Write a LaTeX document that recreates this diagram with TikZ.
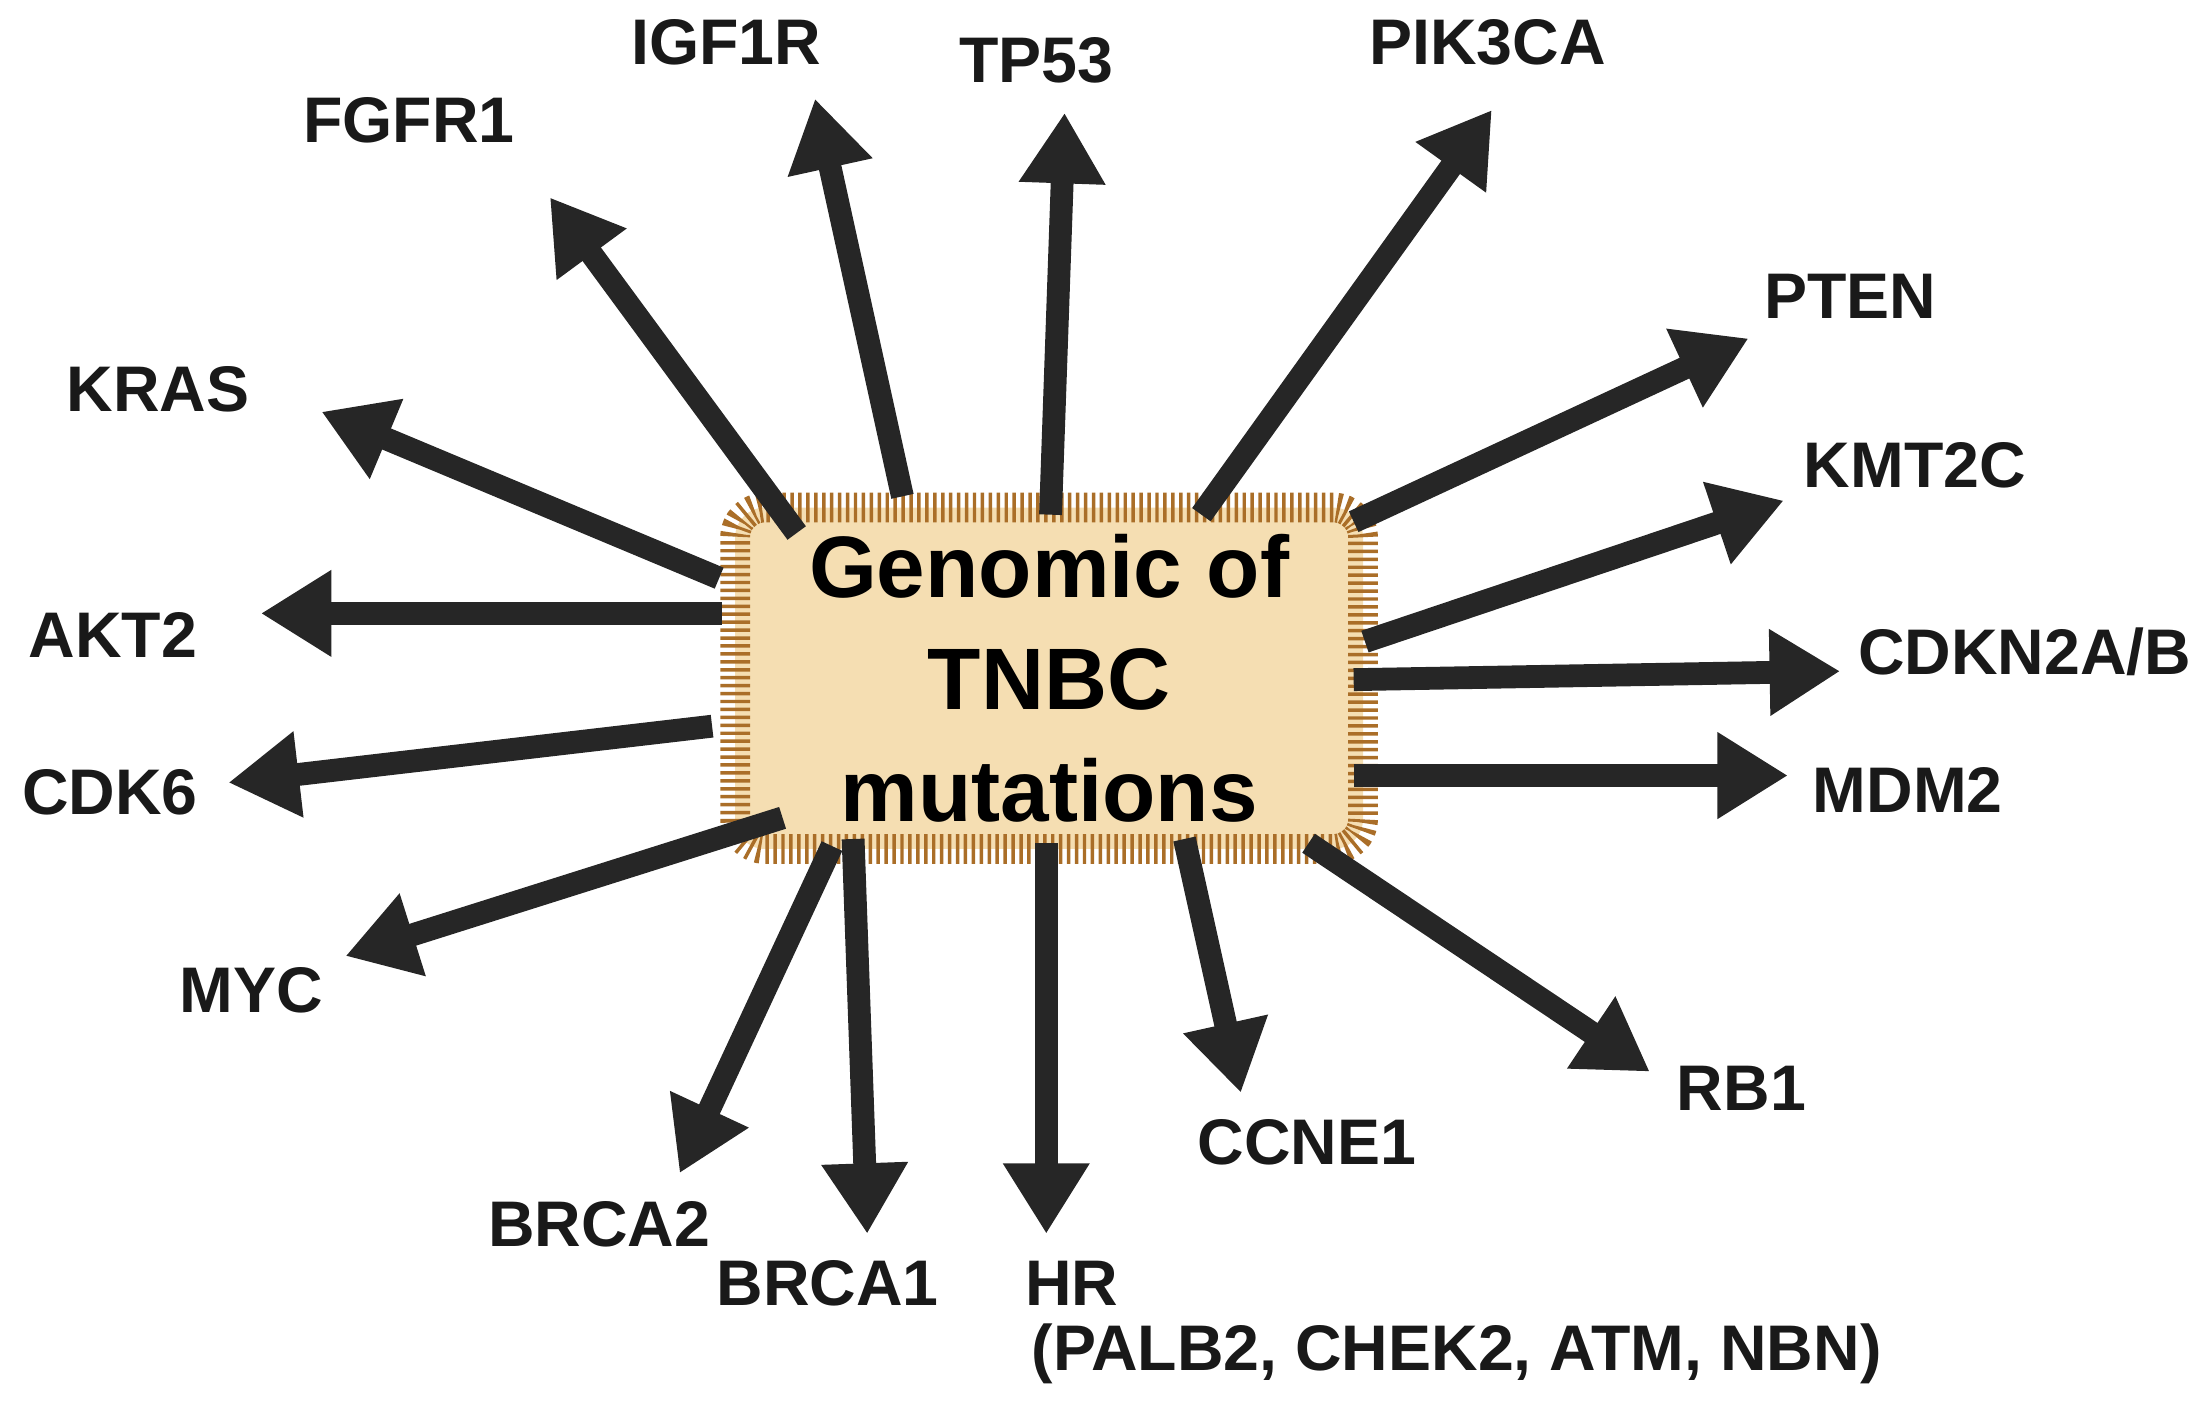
\documentclass[tikz,border=0pt]{standalone}
\usepackage{fontspec}
\setmainfont{Liberation Sans}
\usetikzlibrary{arrows.meta}
\begin{document}
\begin{tikzpicture}[x=0.01cm,y=-0.01cm,
 arr/.style={line width=4.6pt,color=black!85,-{Triangle[length=0.5cm,width=0.58cm]}},
 lab/.style={font=\bfseries\fontsize{13}{15}\selectfont,text=black!90}]
\useasboundingbox (0,0) rectangle (1568,1000);
\node[draw={rgb,255:red,170;green,110;blue,40},line width=6pt,dash pattern=on 0.7pt off 0.9pt,
 fill={rgb,255:red,245;green,222;blue,178},minimum width=4.45cm,minimum height=2.42cm,
 rounded corners=6pt,align=center,font=\bfseries\fontsize{17.6}{22.5}\selectfont] (box) at (744,481)
 {Genomic of\\TNBC\\mutations};
\foreach \n/\sx/\sy/\tx/\ty in {
 fg/565/378/390/140, ig/640/352/578/70, tp/745/365/755/80, pi/852/365/1058/78,
 pt/960/370/1240/240, km/968/455/1265/355, cd/960/482/1305/476, md/960/550/1268/550,
 rb/928/598/1170/760, cc/840/595/880/775, hr/742/598/742/875, b1/605/595/615/875,
 b2/590/600/482/832, my/555/580/245/678, c6/505/515/162/555, ak/512/435/185/435,
 kr/510/410/228/292}{
 \coordinate (s\n) at (\sx,\sy);
 \coordinate (t\n) at (\tx,\ty);
 \draw[arr] (s\n) -- (t\n);
}
\node[lab] (lfg) at (290,85) {FGFR1};
\node[lab] (lig) at (515,30) {IGF1R};
\node[lab] (ltp) at (735,43) {TP53};
\node[lab] (lpi) at (1055,30) {PIK3CA};
\node[lab] (lpt) at (1312,210) {PTEN};
\node[lab] (lkm) at (1358,330) {KMT2C};
\node[lab] (lcd) at (1436,462) {CDKN2A/B};
\node[lab] (lmd) at (1353,560) {MDM2};
\node[lab] (lrb) at (1235,772) {RB1};
\node[lab] (lcc) at (927,810) {CCNE1};
\node[lab] (lhr) at (760,910) {HR};
\node[lab] (lhr2) at (1033,960) {(PALB2, CHEK2, ATM, NBN)};
\node[lab] (lb1) at (587,910) {BRCA1};
\node[lab] (lb2) at (425,868) {BRCA2};
\node[lab] (lmy) at (178,702) {MYC};
\node[lab] (lc6) at (78,562) {CDK6};
\node[lab] (lak) at (80,450) {AKT2};
\node[lab] (lkr) at (112,276) {KRAS};
\end{tikzpicture}
\end{document}
